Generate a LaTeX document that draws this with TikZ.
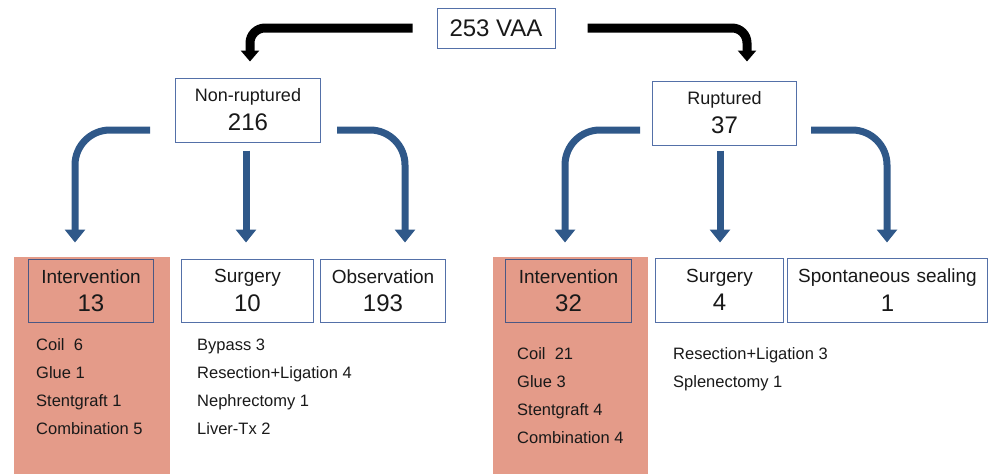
\documentclass[tikz,border=0pt]{standalone}
\usepackage{fontspec}
\setmainfont{Liberation Sans}
\usepackage{tikz}
\usetikzlibrary{arrows.meta,positioning}

\definecolor{salmon}{RGB}{228,155,137}
\definecolor{arrowblue}{RGB}{47,88,137}
\definecolor{boxblue}{RGB}{84,112,168}
\definecolor{intervblue}{RGB}{74,88,132}
\definecolor{txt}{RGB}{25,25,25}

\newcommand{\countfont}{\fontsize{24}{28.6}\selectfont}

\begin{document}
\begin{tikzpicture}[
        x=1pt, y=1pt,
        every node/.style={text=txt},
        box/.style={draw=boxblue, line width=1pt, fill=white, inner sep=0pt, align=center,
                    font=\fontsize{19}{23}\selectfont},
        topbox/.style={box, font=\fontsize{18}{22}\selectfont},
        intervbox/.style={box, draw=intervblue, fill=salmon},
        item/.style={anchor=base west, inner sep=0pt, font=\fontsize{16.5}{20}\selectfont},
        splitarrow/.style={line width=9pt, rounded corners=15pt, -{Triangle[width=18pt,length=11pt]}},
        brancharrow/.style={draw=arrowblue, line width=7pt, rounded corners=35pt,
                    -{Triangle[width=20pt,length=13pt]}}
    ]
    \useasboundingbox (0,0) rectangle (990,-474);

    % coloured panels behind the intervention columns
    \fill[salmon] (14,-257) rectangle (170,-474);
    \fill[salmon] (493,-257) rectangle (648,-474);

    % Nodes
    \node[box, minimum width=118pt, minimum height=40pt, font=\fontsize{24}{28}\selectfont]
        (vaa) at (496,-28) {253 VAA};

    \node[topbox, text width=145pt, minimum height=64pt] (nonrupt) at (248,-110)
        {Non-ruptured\\[7pt]\countfont 216};
    \node[topbox, text width=144pt, minimum height=64pt] (rupt) at (724.5,-113)
        {Ruptured\\[7pt]\countfont 37};

    \node[intervbox, text width=125pt, minimum height=63pt] (interv1) at (91,-290.5)
        {Intervention\\[5.5pt]\countfont 13};
    \node[box, text width=132pt, minimum height=63pt] (surg1) at (247.5,-290.5)
        {Surgery\\[5.5pt]\countfont 10};
    \node[box, text width=125pt, minimum height=63pt] (obs) at (383,-290.5)
        {Observation\\[5.5pt]\countfont 193};

    \node[intervbox, text width=126pt, minimum height=63pt] (interv2) at (568.5,-290.5)
        {Intervention\\[5.5pt]\countfont 32};
    \node[box, text width=128pt, minimum height=64pt] (surg2) at (719.5,-290)
        {Surgery\\[5.5pt]\countfont 4};
    \node[box, text width=200pt, minimum height=64pt] (spont) at (887.5,-290)
        {Spontaneous sealing\\[5.5pt]\countfont 1};

    % lists under the boxes
    \foreach \txt [count=\i] in {Coil\ \ 6, Glue 1, Stentgraft 1, Combination 5}
        \node[item] (intlist1-\i) at (36,{-350-28*(\i-1)}) {\txt};
    \foreach \txt [count=\i] in {Bypass 3, Resection+Ligation 4, Nephrectomy 1, Liver-Tx 2}
        \node[item] (surglist1-\i) at (197,{-350-28*(\i-1)}) {\txt};
    \foreach \txt [count=\i] in {Coil\ \ 21, Glue 3, Stentgraft 4, Combination 4}
        \node[item] (intlist2-\i) at (517,{-359-28*(\i-1)}) {\txt};
    \foreach \txt [count=\i] in {Resection+Ligation 3, Splenectomy 1}
        \node[item] (surglist2-\i) at (673,{-359-28*(\i-1)}) {\txt};

    % Arrows
    \draw[splitarrow] ([xshift=-24pt]vaa.west) -| ([shift={(2,16)}]nonrupt.north);
    \draw[splitarrow] ([xshift=32pt]vaa.east) -| ([shift={(22.5,19)}]rupt.north);

    \draw[brancharrow] ([shift={(-25,-20)}]nonrupt.west) -| ([shift={(-16,16)}]interv1.north);
    \draw[brancharrow] ([shift={(-2,-8)}]nonrupt.south) -- ([shift={(-1.5,16)}]surg1.north);
    \draw[brancharrow] ([shift={(16,-20)}]nonrupt.east) -| ([shift={(22,16)}]obs.north);

    \draw[brancharrow] ([shift={(-12,-17)}]rupt.west) -| ([shift={(-3.5,16)}]interv2.north);
    \draw[brancharrow] ([shift={(-4.5,-5)}]rupt.south) -- ([shift={(0.5,15)}]surg2.north);
    \draw[brancharrow] ([shift={(14,-17)}]rupt.east) -| ([shift={(-0.5,15)}]spont.north);

\end{tikzpicture}
\end{document}
